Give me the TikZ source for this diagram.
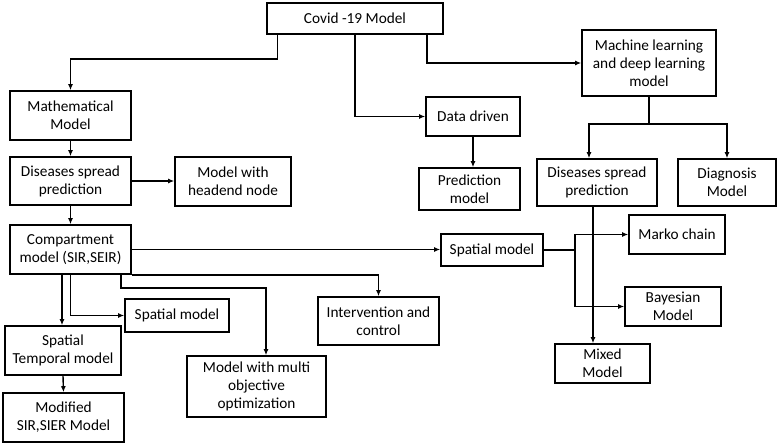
\documentclass[tikz,border=0pt]{standalone}
\usepackage{fontspec}
\setmainfont{Carlito}
\usetikzlibrary{arrows.meta,calc}
\definecolor{LineClr}{rgb}{0,0,0}

\begin{document}
\begin{tikzpicture}[x=1pt,y=-1pt,
  Box/.style={draw=LineClr,line width=1.6pt,align=center,inner sep=0pt,
    font=\fontsize{15.3}{18}\selectfont},
  Link/.style={draw=LineClr,line width=1.4pt,-{Latex[length=6pt,width=5pt]}}]
\useasboundingbox (0,0) rectangle (780,445);

\node[Box,minimum width=176,minimum height=31] (Covid) at (355,18.5) {Covid -19 Model};
\node[Box,minimum width=121,minimum height=49] (Math) at (70.5,115.5) {Mathematical\\Model};
\node[Box,minimum width=121,minimum height=48] (DSa) at (70.5,181) {Diseases spread\\prediction};
\node[Box,minimum width=116,minimum height=49] (Head) at (233,181.5) {Model with\\headend node};
\node[Box,minimum width=121,minimum height=49] (Comp) at (70.5,249.5) {Compartment\\model (SIR,SEIR)};
\node[Box,minimum width=116,minimum height=49] (SpTe) at (63,350.5) {Spatial\\Temporal model};
\node[Box,minimum width=121,minimum height=49] (Modif) at (63.5,417.5) {Modified\\SIR,SIER Model};
\node[Box,minimum width=104,minimum height=33] (SpA) at (177,315.5) {Spatial model};
\node[Box,minimum width=139,minimum height=61] (Multi) at (256.5,386.5) {Model with multi\\objective\\optimization};
\node[Box,minimum width=121,minimum height=48] (Inter) at (378.5,321) {Intervention and\\control};
\node[Box,minimum width=94,minimum height=39] (Data) at (473,116.5) {Data driven};
\node[Box,minimum width=101,minimum height=42] (Pred) at (469.5,189) {Prediction\\model};
\node[Box,minimum width=134,minimum height=66] (ML) at (649,63) {Machine learning\\and deep learning\\model};
\node[Box,minimum width=120,minimum height=47] (DSb) at (597,182.5) {Diseases spread\\prediction};
\node[Box,minimum width=98,minimum height=47] (Diag) at (727,182.5) {Diagnosis\\Model};
\node[Box,minimum width=102,minimum height=32] (SpB) at (492,250) {Spatial model};
\node[Box,minimum width=96,minimum height=39] (Marko) at (677,234.5) {Marko chain};
\node[Box,minimum width=96,minimum height=39] (Bayes) at (673,306.5) {Bayesian\\Model};
\node[Box,minimum width=95,minimum height=39] (Mixed) at (602.5,363.5) {Mixed\\Model};

\draw[Link] ([xshift=11pt]Covid.south west) -- ++(0,24) -| (Math.north);
\draw[Link] (Covid.south) |- (Data.west);
\draw[Link] ([xshift=-17pt]Covid.south east) |- (ML.west);
\draw[Link] (Data.south) -- (Data.south |- Pred.north);
\draw[Link] (ML.south) -- ++(0,27) -| ([xshift=-8pt]DSb.north);
\draw[Link] (ML.south) -- ++(0,27) -| (Diag.north);
\draw[Link] (Math.south) -- (DSa.north);
\draw[Link] (DSa.east) -- (DSa.east -| Head.west);
\draw[Link] (DSa.south) -- (Comp.north);
\draw[Link] (Comp.east) -- (Comp.east -| SpB.west);
\draw[Link] (SpB.east) -- ++(31,0) |- (Marko.west);
\draw[Link] (SpB.east) -- ++(31,0) |- (Bayes.west);
\draw[Link] ([xshift=-4pt]DSb.south) -- ([xshift=-4pt]DSb.south |- Mixed.north);
\draw[Link] ([xshift=-8.5pt]Comp.south) -- ([xshift=-8.5pt]Comp.south |- SpTe.north);
\draw[Link] (Comp.south) |- (SpA.west);
\draw[Link] ([xshift=-11pt]Comp.south east) -- ++(0,13) -| ([xshift=9.5pt]Multi.north);
\draw[Link] (Comp.south east) -| (Inter.north);
\draw[Link] (SpTe.south) -- (Modif.north);

\end{tikzpicture}
\end{document}
